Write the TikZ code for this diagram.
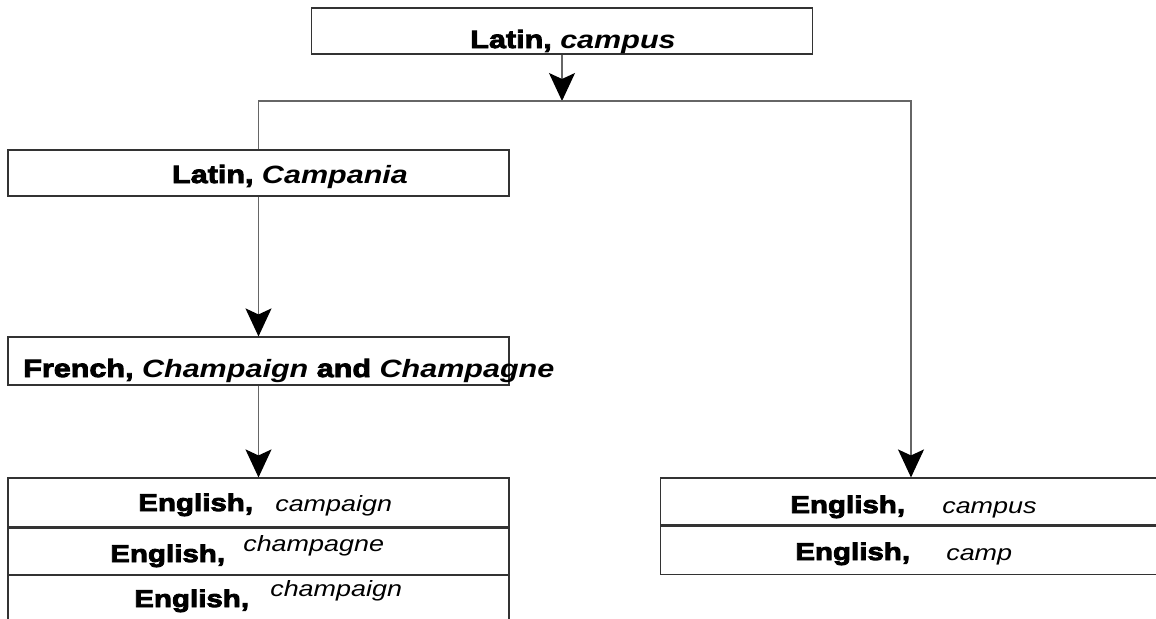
\documentclass[tikz,border=0pt]{standalone}
\usepackage{fontspec}
\newfontfamily\boxfont{Liberation Sans}[FakeStretch=1.22, BoldFeatures={FakeBold=3.5}]
\usetikzlibrary{arrows.meta,positioning}

\tikzset{
  box/.style={draw=black!80, line width=0.8pt, minimum width=501*0.025cm, inner sep=0pt},
  conn/.style={draw=black!60, line width=0.9pt, -{Stealth[length=0.7cm, width=0.65cm, inset=0.15cm, color=black]}},
  head/.style={inner sep=0pt, font={\boxfont\fontsize{17.8}{20}\selectfont\bfseries}},
  eng/.style={inner sep=0pt, anchor=base west, font={\boxfont\fontsize{17.2}{20}\selectfont\bfseries}},
  word/.style={inner sep=0pt, anchor=base west, font={\boxfont\fontsize{15.7}{18}\selectfont\itshape}}
}

\begin{document}
\begin{tikzpicture}[x=0.025cm, y=-0.025cm]
\useasboundingbox (0,0) rectangle (1156,618);

% boxes
\node[box, minimum height=46*0.025cm] (latcampus) at (562,31) {};
\node[box, minimum height=46*0.025cm] (latcampania) at (258.5,173) {};
\node[box, minimum height=48*0.025cm] (french) at (258.5,361) {};
\node[box, minimum height=49*0.025cm] (eng1) at (258.5,502.5) {};
\node[box, minimum height=46*0.025cm, below=0pt of eng1] (eng2) {};
\node[box, minimum height=54*0.025cm, below=0pt of eng2] (eng3) {};
\node[box, minimum height=47*0.025cm] (rgt1) at (911,501.5) {};
\node[box, minimum height=48*0.025cm, below=0pt of rgt1] (rgt2) {};

% texts
\node[head, anchor=base] (t0) at (573,48) {Latin, \textit{campus}};
\node[head, anchor=base] (t1) at (290,183) {Latin, \textit{Campania}};
\node[head, anchor=base west] (t2) at (23,377) {French, \textit{Champaign} and \textit{Champagne}};
\node[eng] (e1) at (138,511) {English,};
\node[word] (w1) at (275,511) {campaign};
\node[eng] (e2) at (110,562) {English,};
\node[word] (w2) at (243,551) {champagne};
\node[eng] (e3) at (134,607) {English,};
\node[word] (w3) at (270,596) {champaign};
\node[eng] (e4) at (790,513) {English,};
\node[word] (w4) at (942,513) {campus};
\node[eng] (e5) at (795,560) {English,};
\node[word] (w5) at (946,560) {camp};

% connectors
\coordinate (split) at (562,101);
\draw[conn] (latcampus.south) -- (split);
\draw[conn] (latcampania.north) |- (split) -| (rgt1.north);
\draw[conn] (latcampania.south) -- (french.north);
\draw[conn] (french.south) -- (eng1.north);
\end{tikzpicture}
\end{document}
